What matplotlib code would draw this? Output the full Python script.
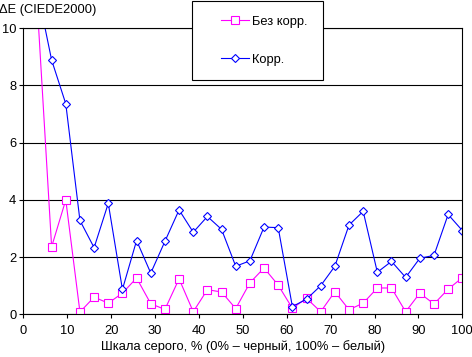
import numpy as np
import matplotlib
matplotlib.use("Agg")
import matplotlib.pyplot as plt
from matplotlib.patches import Rectangle

plt.rcParams['font.family'] = ['Liberation Sans', 'DejaVu Sans']

# grey level, % (32 steps, first one off the chart)
gray = [i * 100 / 31 for i in range(1, 32)]

no_corr = [10.7, 2.36, 4.00, 0.08, 0.60, 0.39, 0.74, 1.27, 0.37, 0.17, 1.24,
           0.09, 0.86, 0.78, 0.20, 1.10, 1.62, 1.02, 0.21, 0.56, 0.09, 0.79,
           0.16, 0.39, 0.92, 0.92, 0.09, 0.74, 0.36, 0.88, 1.28]
corr = [11.3, 8.89, 7.36, 3.28, 2.33, 3.88, 0.87, 2.58, 1.44, 2.55, 3.65,
        2.87, 3.42, 2.97, 1.68, 1.87, 3.05, 3.03, 0.27, 0.53, 1.00, 1.68,
        3.12, 3.60, 1.47, 1.85, 1.29, 1.96, 2.06, 3.49, 2.93]

labels = ['Без корр.', 'Корр.']
x_ticks = list(range(0, 101, 10))
y_ticks = [0, 2, 4, 6, 8, 10]

W, H = 472, 357
fig = plt.figure(figsize=(W / 100, H / 100), dpi=100)
fig.patch.set_facecolor('white')

def px(x0, y0, x1, y1):
    return [x0 / W, 1 - y1 / H, (x1 - x0) / W, (y1 - y0) / H]

ax = fig.add_axes(px(23.3, 28.3, 462.3, 314.3))
fs = 9.3

ax.plot(gray, no_corr, color='#ff00ff', lw=0.8, marker='s', ms=5.3,
        mfc='white', mec='#ff00ff', mew=0.8, label=labels[0], clip_on=True)
ax.plot(gray, corr, color='#0000ff', lw=0.8, marker='D', ms=4.3,
        mfc='white', mec='#0000ff', mew=0.8, label=labels[1], clip_on=True)

ax.set_xlim(0, 100)
ax.set_ylim(0, 10)
ax.set_xticks(x_ticks)
ax.set_yticks(y_ticks)
ax.tick_params(direction='out', length=3, width=0.8, color='black',
               labelsize=fs)
ax.tick_params(axis='x', pad=5)
ax.tick_params(axis='y', pad=2)
ax.yaxis.grid(True, color='black', lw=0.8)
ax.set_axisbelow(True)
for s in ax.spines.values():
    s.set_color('black')
    s.set_linewidth(0.8)

ax.set_xlabel('Шкала серого, % (0% – черный, 100% – белый)', fontsize=fs,
              labelpad=2)
fig.text(-1 / W, 1 - 10 / H, 'ΔE (CIEDE2000)', fontsize=fs,
         ha='left', va='center')

# legend box
box = Rectangle((191.7 / W, 1 - 80 / H), (322.7 - 191.7) / W, 79.3 / H,
                transform=fig.transFigure, facecolor='white',
                edgecolor='black', lw=0.8, zorder=5)
fig.add_artist(box)
handles, labs = ax.get_legend_handles_labels()
leg = fig.legend(handles, labs, loc='center left',
                 bbox_to_anchor=(215 / W, 1 - 40.8 / H), frameon=False,
                 fontsize=fs, borderpad=0, handlelength=2.1,
                 handletextpad=0.3, labelspacing=2.0)
leg.set_zorder(6)

fig.savefig('out.png', dpi=100)
